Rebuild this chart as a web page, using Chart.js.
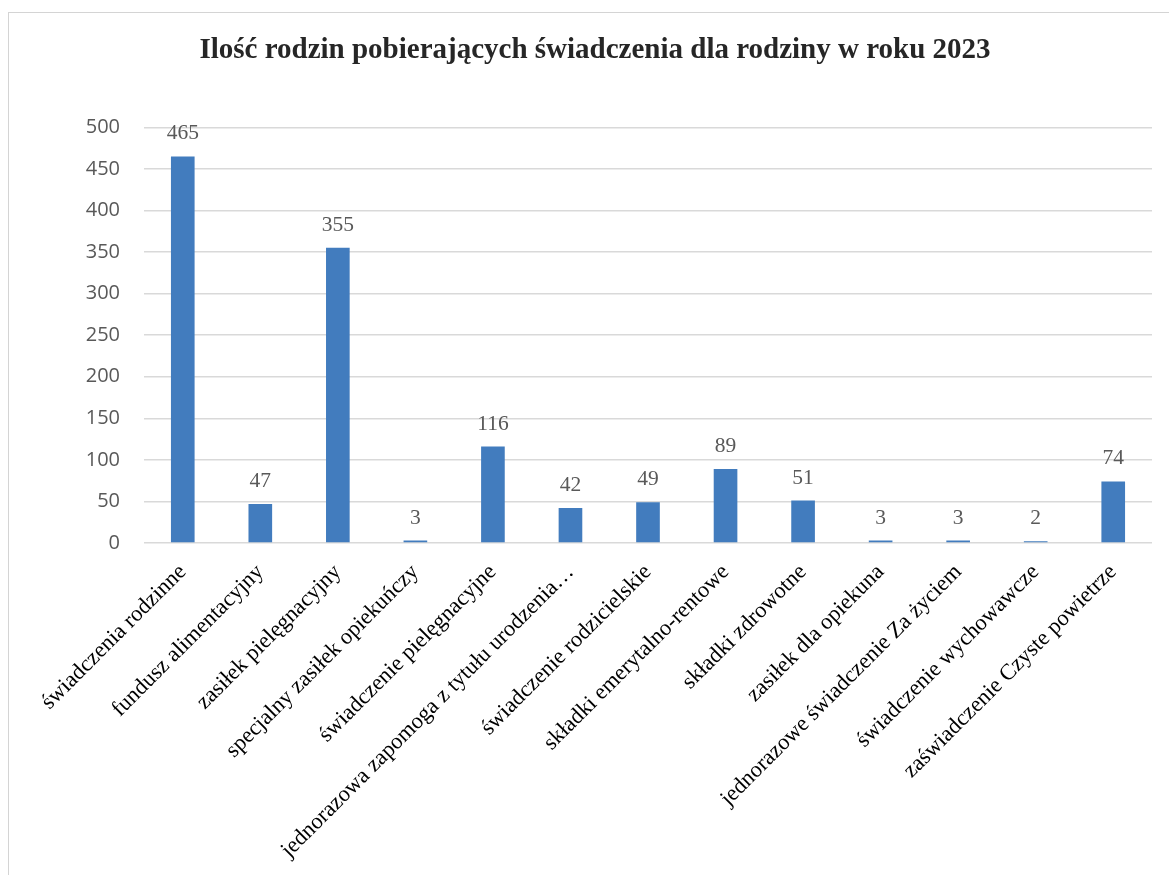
<!DOCTYPE html>
<html><head><meta charset="utf-8">
<script src="https://cdn.jsdelivr.net/npm/chart.js@4"></script>
<style>
html,body{margin:0;padding:0;background:#fff;overflow:hidden;width:1169px;height:875px;}
#frame{position:absolute;left:8px;top:12px;width:1170px;height:870px;border-left:1px solid #d4d4d4;border-top:1px solid #d4d4d4;}
#c{position:absolute;left:0;top:0;}
</style></head><body>
<div id="frame"><canvas id="c" width="1160" height="862" style="width:1160px;height:862px"></canvas></div>
<script>
const chartTitle = 'Ilość rodzin pobierających świadczenia dla rodziny w roku 2023';
const categories = [
  'świadczenia rodzinne',
  'fundusz alimentacyjny',
  'zasiłek pielęgnacyjny',
  'specjalny zasiłek opiekuńczy',
  'świadczenie pielęgnacyjne',
  'jednorazowa zapomoga z tytułu urodzenia…',
  'świadczenie rodzicielskie',
  'składki emerytalno-rentowe',
  'składki zdrowotne',
  'zasiłek dla opiekuna',
  'jednorazowe świadczenie Za życiem',
  'świadczenie wychowawcze',
  'zaświadczenie Czyste powietrze'
];
const values = [465, 47, 355, 3, 116, 42, 49, 89, 51, 3, 3, 2, 74];
const yMin = 0, yMax = 500, yStep = 50;

const valueLabels = {
  id: 'valueLabels',
  afterDatasetsDraw(chart) {
    const ctx = chart.ctx;
    const meta = chart.getDatasetMeta(0);
    ctx.save();
    ctx.font = '21.5px "Liberation Serif"';
    ctx.fillStyle = '#595959';
    ctx.textAlign = 'center';
    ctx.textBaseline = 'alphabetic';
    meta.data.forEach((bar, i) => {
      ctx.fillText(String(values[i]), bar.x, bar.y - 17);
    });
    ctx.restore();
  }
};

new Chart(document.getElementById('c'), {
  type: 'bar',
  data: {
    labels: categories,
    datasets: [{
      data: values,
      backgroundColor: '#427CBE',
      barPercentage: 0.305,
      categoryPercentage: 1.0
    }]
  },
  options: {
    responsive: false,
    animation: false,
    devicePixelRatio: 1,
    layout: { padding: { left: 29, right: 17, top: 0, bottom: 0 } },
    plugins: {
      legend: { display: false },
      tooltip: { enabled: false },
      title: {
        display: true,
        text: chartTitle,
        color: '#262626',
        font: { family: '"Liberation Serif"', size: 29, weight: 'bold', lineHeight: 1.2 },
        padding: { top: 20.5, bottom: 59 }
      }
    },
    scales: {
      x: {
        grid: { display: false },
        border: { display: false },
        ticks: {
          autoSkip: false,
          maxRotation: 45,
          minRotation: 45,
          color: '#000000',
          padding: 8,
          font: { family: '"Liberation Serif"', size: 22.5 }
        },
        afterFit(scale) { scale.height = 332; }
      },
      y: {
        min: yMin,
        max: yMax,
        ticks: {
          stepSize: yStep,
          color: '#595959',
          padding: 24,
          font: { family: '"Open Sans"', size: 20 }
        },
        grid: { color: '#d9d9d9', lineWidth: 1.5, drawTicks: false },
        border: { display: false },
        afterFit(scale) { scale.width = 106; }
      }
    }
  },
  plugins: [valueLabels]
});
</script>
</body></html>
